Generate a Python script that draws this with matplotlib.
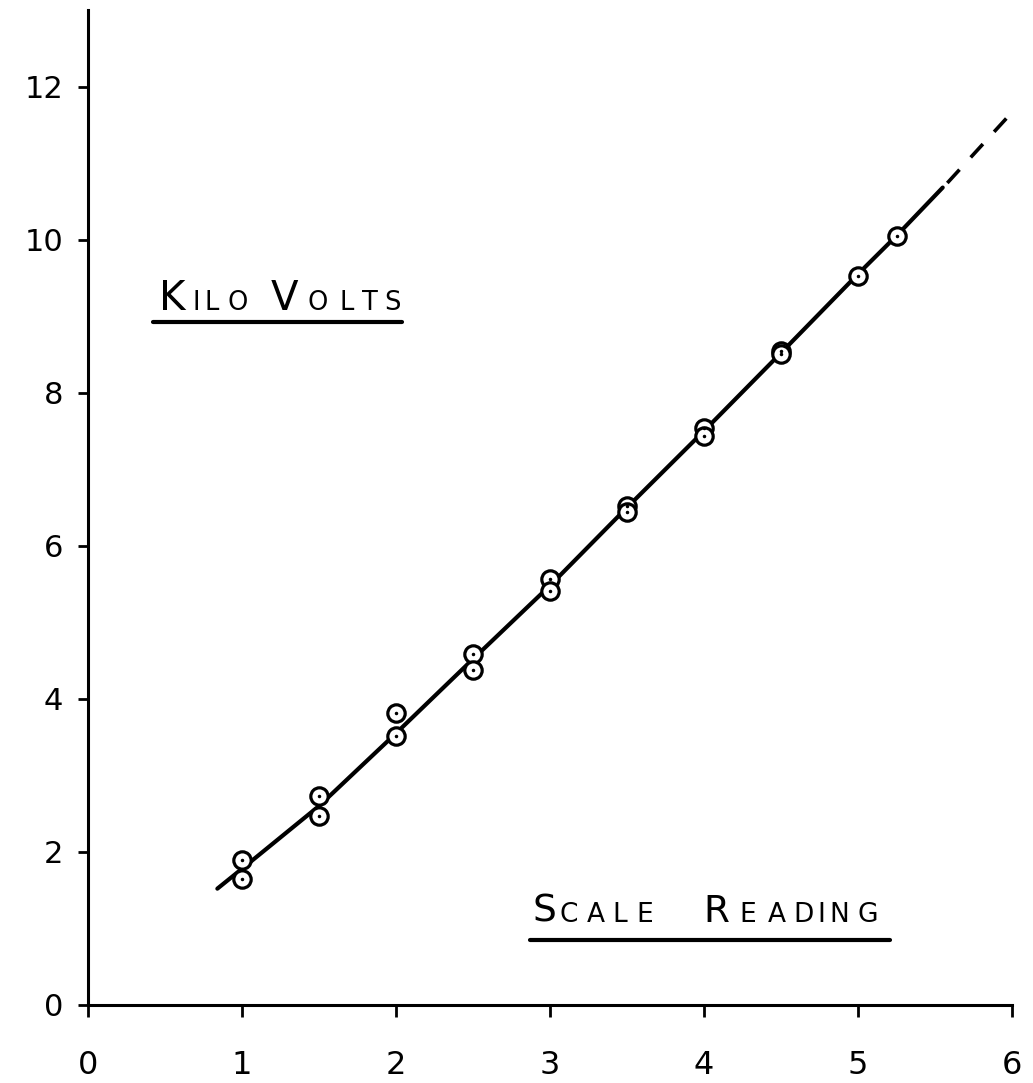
import matplotlib
matplotlib.use("Agg")
import matplotlib.pyplot as plt
from matplotlib.transforms import IdentityTransform
from matplotlib.lines import Line2D

# calibration readings
scale = [1, 1, 1.5, 1.5, 2, 2, 2.5, 2.5, 3, 3, 3.5, 3.5, 4, 4, 4.5, 4.5, 5, 5.25]
kv = [1.9, 1.65, 2.73, 2.47, 3.82, 3.52, 4.58, 4.38, 5.56, 5.41,
      6.52, 6.44, 7.54, 7.44, 8.54, 8.50, 9.53, 10.05]

# hand drawn curve, solid part then extrapolated dashes
curve_x = [0.84, 1.0, 1.5, 2.0, 2.5, 3.0, 3.5, 4.0, 4.5, 5.0, 5.25, 5.55]
curve_y = [1.52, 1.78, 2.6, 3.55, 4.52, 5.48, 6.5, 7.5, 8.52, 9.55, 10.05, 10.68]
extra_x = [5.58, 5.98]
extra_y = [10.74, 11.62]

xticks = [0, 1, 2, 3, 4, 5, 6]
yticks = [0, 2, 4, 6, 8, 10, 12]

plt.rcParams['font.family'] = ['DejaVu Sans']

fig = plt.figure(figsize=(10.33, 10.83), dpi=100)
ax = fig.add_axes([88 / 1033, 78 / 1083, 924 / 1033, 995 / 1083])

ax.plot(curve_x, curve_y, color='black', lw=3, solid_capstyle='round')
ax.plot(extra_x, extra_y, color='black', lw=2.6, dashes=(5.0, 4.6))
ax.plot(scale, kv, 'o', ms=12.5, mfc='white', mec='black', mew=2.3)
ax.plot(scale, kv, '.', ms=3, color='black')

ax.set_xlim(0, 6)
ax.set_ylim(0, 13)
ax.set_xticks(xticks)
ax.set_yticks(yticks)
ax.set_xticklabels([str(v) for v in xticks])
ax.set_yticklabels([str(v) for v in yticks])

for side in ['top', 'right']:
    ax.spines[side].set_visible(False)
for side in ['left', 'bottom']:
    ax.spines[side].set_linewidth(2.2)
ax.tick_params(axis='x', direction='out', length=8.5, width=2, pad=24, labelsize=23)
ax.tick_params(axis='y', direction='out', length=7, width=2, pad=11, labelsize=22)


def letters(chars, baseline, big, small):
    # hand lettering in small caps: (char, centre x, is capital)
    y = 1083 - baseline
    for ch, cx, cap in chars:
        fig.text(cx, y, ch, fontsize=big if cap else small, ha='center',
                 va='baseline', transform=IdentityTransform())


def underline(x0, x1, ytop):
    y = 1083 - ytop
    fig.add_artist(Line2D([x0, x1], [y, y], color='black', lw=3,
                          solid_capstyle='round', transform=IdentityTransform()))


letters([('K', 172, True), ('I', 196, False), ('L', 212, False), ('O', 238, False),
         ('V', 284, True), ('O', 318, False), ('L', 347, False), ('T', 370, False),
         ('S', 392, False)], 310, 29, 18.5)
underline(153, 402, 322)

letters([('S', 544, True), ('C', 569, False), ('A', 596, False), ('L', 620, False),
         ('E', 645, False), ('R', 716, True), ('E', 748, False), ('A', 777, False),
         ('D', 803, False), ('I', 821, False), ('N', 839, False), ('G', 868, False)],
        922, 27, 19)
underline(530, 890, 940)

fig.savefig('out.png', dpi=100)
